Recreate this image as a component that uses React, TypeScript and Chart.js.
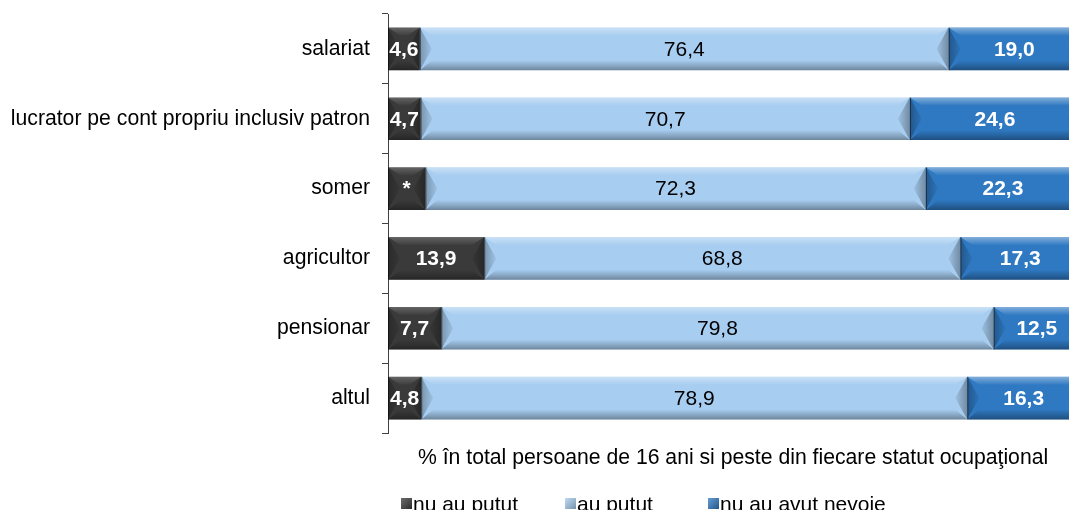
import { useEffect, useRef } from 'react';
import { Chart, registerables } from 'chart.js';

Chart.register(...registerables);

const categories = [
  'salariat',
  'lucrator pe cont propriu inclusiv patron',
  'somer',
  'agricultor',
  'pensionar',
  'altul',
];
const nuAuPutut = [4.6, 4.7, 5.4, 13.9, 7.7, 4.8];
const auPutut = [76.4, 70.7, 72.3, 68.8, 79.8, 78.9];
const nuAuAvutNevoie = [19.0, 24.6, 22.3, 17.3, 12.5, 16.3];
const nuAuPututLabels = ['4,6', '4,7', '*', '13,9', '7,7', '4,8'];
const seriesNames = ['nu au putut', 'au putut', 'nu au avut nevoie'];
const seriesColors = ['#3a3a3a', '#a7cdf0', '#2f79c2'];
const axisTitle = '% în total persoane de 16 ani si peste din fiecare statut ocupaţional';

const FONT = '"Liberation Sans", Arial, sans-serif';

const fmt = (v: number) => v.toFixed(1).replace('.', ',');

const bevelPlugin = {
  id: 'bevelLabels',
  afterDatasetsDraw(chart: any) {
    const ctx: CanvasRenderingContext2D = chart.ctx;
    const area = chart.chartArea;
    ctx.save();
    ctx.beginPath();
    ctx.rect(area.left, area.top, area.right - area.left, area.bottom - area.top);
    ctx.clip();
    chart.data.datasets.forEach((_ds: any, di: number) => {
      const meta = chart.getDatasetMeta(di);
      meta.data.forEach((el: any) => {
        const p = el.getProps(['x', 'y', 'base', 'height'], true);
        const x0 = Math.min(p.x, p.base);
        const x1 = Math.max(p.x, p.base);
        const y0 = p.y - p.height / 2;
        const y1 = p.y + p.height / 2;
        const yc = p.y;
        const w = x1 - x0;
        const bw = Math.min(12, w / 2);
        const light = di === 0 ? 0.22 : 0.4;
        // top highlight
        let g = ctx.createLinearGradient(0, y0, 0, y0 + 8);
        g.addColorStop(0, `rgba(255,255,255,${light})`);
        g.addColorStop(0.4, `rgba(255,255,255,${light * 0.6})`);
        g.addColorStop(1, 'rgba(255,255,255,0.02)');
        ctx.fillStyle = g;
        ctx.beginPath();
        ctx.moveTo(x0, y0);
        ctx.lineTo(x1, y0);
        ctx.lineTo(x1 - bw, y0 + 8);
        ctx.lineTo(x0 + bw, y0 + 8);
        ctx.closePath();
        ctx.fill();
        // bottom shadow
        g = ctx.createLinearGradient(0, y1 - 10, 0, y1);
        g.addColorStop(0, 'rgba(0,0,0,0)');
        g.addColorStop(0.6, 'rgba(0,0,0,0.2)');
        g.addColorStop(1, 'rgba(0,0,0,0.35)');
        ctx.fillStyle = g;
        ctx.beginPath();
        ctx.moveTo(x0, y1);
        ctx.lineTo(x1, y1);
        ctx.lineTo(x1 - bw, y1 - 10);
        ctx.lineTo(x0 + bw, y1 - 10);
        ctx.closePath();
        ctx.fill();
        // left face
        g = ctx.createLinearGradient(x0, 0, x0 + bw, 0);
        g.addColorStop(0, 'rgba(0,0,0,0.28)');
        g.addColorStop(1, 'rgba(0,0,0,0.05)');
        ctx.fillStyle = g;
        ctx.beginPath();
        ctx.moveTo(x0, y0);
        ctx.lineTo(x0 + bw, yc);
        ctx.lineTo(x0, y1);
        ctx.closePath();
        ctx.fill();
        // right face
        g = ctx.createLinearGradient(x1, 0, x1 - bw, 0);
        g.addColorStop(0, 'rgba(0,0,0,0.32)');
        g.addColorStop(1, 'rgba(0,0,0,0.06)');
        ctx.fillStyle = g;
        ctx.beginPath();
        ctx.moveTo(x1, y0);
        ctx.lineTo(x1 - bw, yc);
        ctx.lineTo(x1, y1);
        ctx.closePath();
        ctx.fill();
        // edge line
        ctx.strokeStyle = 'rgba(0,0,0,0.55)';
        ctx.lineWidth = 1;
        ctx.beginPath();
        ctx.moveTo(x0 + 0.5, y0);
        ctx.lineTo(x0 + 0.5, y1);
        ctx.stroke();
      });
    });
    ctx.restore();

    // value labels
    ctx.save();
    ctx.textAlign = 'center';
    ctx.textBaseline = 'middle';
    chart.data.datasets.forEach((ds: any, di: number) => {
      const meta = chart.getDatasetMeta(di);
      meta.data.forEach((el: any, i: number) => {
        const p = el.getProps(['x', 'y', 'base'], true);
        const cx = (p.x + p.base) / 2;
        let text = fmt(ds.data[i]);
        if (di === 0) text = nuAuPututLabels[i];
        if (di === 1) {
          ctx.font = `21px ${FONT}`;
          ctx.fillStyle = '#000000';
        } else {
          ctx.font = `bold 21px ${FONT}`;
          ctx.fillStyle = '#ffffff';
        }
        ctx.fillText(text, cx, p.y + 1);
      });
    });
    ctx.restore();
  },
  afterDraw(chart: any) {
    const ctx: CanvasRenderingContext2D = chart.ctx;
    ctx.save();
    ctx.fillStyle = '#000000';
    ctx.font = `21.2px ${FONT}`;
    ctx.textAlign = 'left';
    ctx.textBaseline = 'alphabetic';
    ctx.fillText(axisTitle, 418, 464);
    const boxX = [401, 565, 708];
    ctx.font = `21px ${FONT}`;
    seriesNames.forEach((name, i) => {
      const bx = boxX[i];
      const by = 498;
      ctx.fillStyle = seriesColors[i];
      ctx.fillRect(bx, by, 11, 11);
      const g = ctx.createLinearGradient(bx, by, bx + 11, by + 11);
      g.addColorStop(0, 'rgba(255,255,255,0.25)');
      g.addColorStop(1, 'rgba(0,0,0,0.3)');
      ctx.fillStyle = g;
      ctx.fillRect(bx, by, 11, 11);
      ctx.fillStyle = '#000000';
      ctx.fillText(name, bx + 12, 511);
    });
    ctx.restore();
  },
};

export default function App() {
  const ref = useRef<HTMLCanvasElement | null>(null);
  useEffect(() => {
    document.body.style.margin = '0';
    const canvas = ref.current;
    if (!canvas) return;
    const chart = new Chart(canvas, {
      type: 'bar',
      data: {
        labels: categories,
        datasets: [
          { label: seriesNames[0], data: nuAuPutut, backgroundColor: seriesColors[0] },
          { label: seriesNames[1], data: auPutut, backgroundColor: seriesColors[1] },
          { label: seriesNames[2], data: nuAuAvutNevoie, backgroundColor: seriesColors[2] },
        ],
      },
      options: {
        indexAxis: 'y',
        responsive: false,
        animation: false,
        datasets: { bar: { barPercentage: 0.61, categoryPercentage: 1, borderWidth: 0 } },
        layout: { padding: { top: 14, bottom: 77, right: 2, left: 0 } },
        plugins: { legend: { display: false }, tooltip: { enabled: false }, title: { display: false } },
        scales: {
          x: {
            stacked: true,
            display: false,
            min: 0,
            max: 98.4,
          },
          y: {
            stacked: true,
            afterFit: (s: any) => {
              s.width = 388;
            },
            grid: {
              display: true,
              drawOnChartArea: false,
              tickLength: 6,
              color: '#404040',
              offset: true,
            },
            border: { display: true, color: '#404040' },
            ticks: {
              padding: 12,
              color: '#000000',
              font: { family: FONT, size: 21.2, lineHeight: 0.1 },
            },
          },
        },
      },
      plugins: [bevelPlugin],
    });
    return () => chart.destroy();
  }, []);
  return (
    <div style={{ width: 1071, height: 510 }}>
      <canvas ref={ref} width={1071} height={510} style={{ display: 'block' }} />
    </div>
  );
}
